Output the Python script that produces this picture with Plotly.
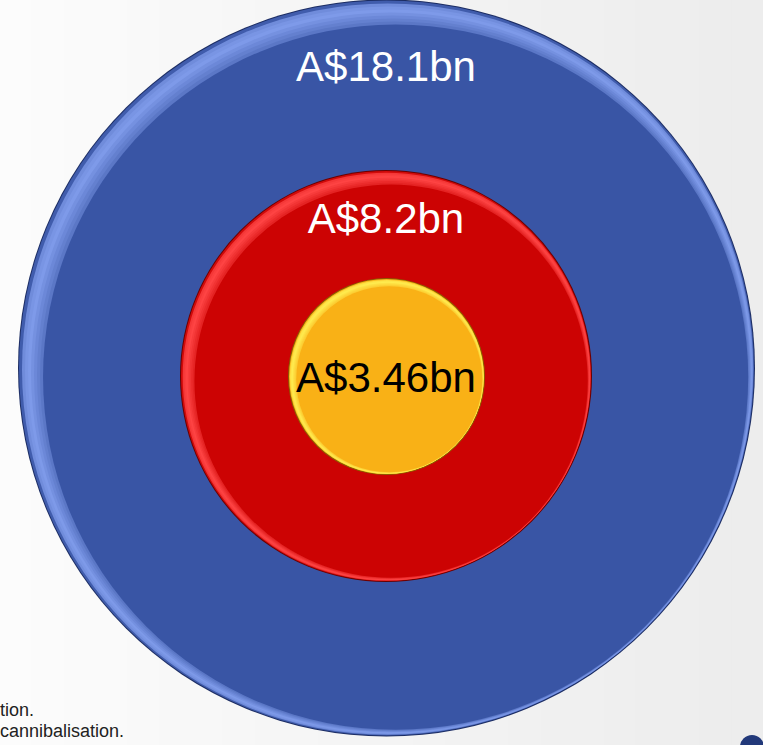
import plotly.graph_objects as go

# ---- data ----
segments = ["Total market", "Serviceable market", "Obtainable market"]
values_bn = [18.1, 8.2, 3.46]
label_text = [f"A${v}bn" for v in values_bn]
footnotes = ["tion.", "cannibalisation."]

# ---- layout constants (pixel coordinates) ----
W, H = 763, 745
centers = [(386.5, 368.0), (386.0, 376.0), (386.5, 376.5)]
radii = [368.5, 206.0, 98.5]
base_cols = [(57, 85, 165), (204, 3, 3), (249, 177, 22)]
hi_cols = [(128, 156, 235), (255, 70, 70), (255, 236, 80)]
edge_cols = ["#1C2D63", "#6A0000", "#8A6000"]
label_pos = [(386, 70), (386, 222), (386, 381)]
label_cols = ["white", "white", "black"]

shapes = []

# background gradient (white on left to light grey on right)
n_strips = 24
for i in range(n_strips):
    g = int(252 - 15 * i / (n_strips - 1))
    shapes.append(dict(type="rect", xref="x", yref="y", x0=W * i / n_strips, x1=W * (i + 1) / n_strips + 1,
                       y0=0, y1=H, fillcolor=f"rgb({g},{g},{g})", line_width=0, layer="below"))


def circ(cx, cy, r, fill):
    return dict(type="circle", xref="x", yref="y", x0=cx - r, x1=cx + r, y0=cy - r, y1=cy + r,
                fillcolor=fill, line=dict(width=0), layer="below")


def mix(a, b, t):
    return "rgb(%d,%d,%d)" % tuple(round(a[k] + (b[k] - a[k]) * t) for k in range(3))


for (cx, cy), r, bc, hc, ec in zip(centers, radii, base_cols, hi_cols, edge_cols):
    # dark rim
    shapes.append(circ(cx, cy, r, ec))
    steps = 8
    tot = max(5.0, r * 0.045)
    inset0 = 1.0
    shapes.append(circ(cx, cy, r - inset0, mix(bc, hc, 0.1)))
    for k in range(1, steps + 1):
        t = k / steps
        off = tot * t
        strength = 0.35 + 0.65 * (1 - abs(2 * t - 0.7) / 1.3) if k < steps else 0.0
        strength = max(0.0, min(1.0, strength))
        shapes.append(circ(cx + off * 0.55, cy + off * 0.55, r - inset0 - off * 0.9, mix(bc, hc, strength)))

# bottom-right dot
shapes.append(circ(752, 747, 12, "#22397A"))

fig = go.Figure()

fig.add_trace(go.Scatter(
    x=[p[0] for p in label_pos], y=[p[1] for p in label_pos],
    mode="text", text=label_text,
    textfont=dict(family="Liberation Sans, Arial, sans-serif", size=42, color=label_cols),
    hoverinfo="skip", showlegend=False,
))

fig.add_trace(go.Scatter(
    x=[0, 0], y=[711, 732], mode="text", text=footnotes, textposition="middle right",
    textfont=dict(family="Liberation Sans, Arial, sans-serif", size=18, color="#222222"),
    hoverinfo="skip", showlegend=False,
))

fig.update_layout(
    width=W, height=H, margin=dict(l=0, r=0, t=0, b=0),
    paper_bgcolor="#f7f7f7", plot_bgcolor="#f7f7f7",
    shapes=shapes, showlegend=False,
    xaxis=dict(range=[0, W], visible=False, fixedrange=True),
    yaxis=dict(range=[H, 0], visible=False, fixedrange=True),
)

fig.write_html("out.html")
